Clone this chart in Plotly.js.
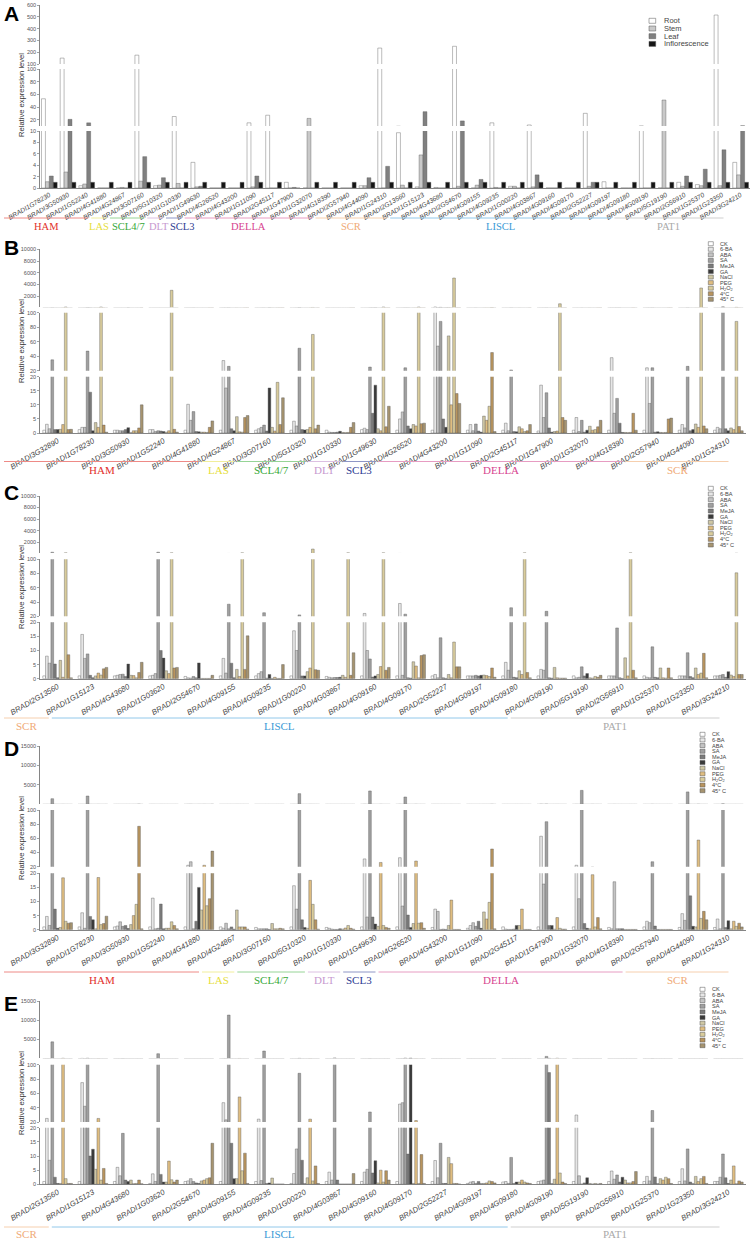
<!DOCTYPE html>
<html><head><meta charset="utf-8">
<script src="https://cdn.plot.ly/plotly-3.0.1.min.js"></script>
<style>html,body{margin:0;padding:0;background:#fff}</style>
</head><body><div id="chart" style="width:753px;height:1240px"></div>
<script>
// ---------- DATA ----------
const genesA = ['BRADI1G78230','BRADI3G50930','BRADI1G52240','BRADI4G41880','BRADI4G24867','BRADI3G07160','BRADI5G10320','BRADI1G10330','BRADI1G49630','BRADI4G26520','BRADI4G43200','BRADI1G11090','BRADI2G45117','BRADI1G47900','BRADI1G32070','BRADI4G18390','BRADI2G57940','BRADI4G44090','BRADI1G24310','BRADI2G13560','BRADI1G15123','BRADI4G43680','BRADI2G54670','BRADI4G09155','BRADI4G09235','BRADI1G00220','BRADI4G03867','BRADI4G09160','BRADI4G09170','BRADI2G52227','BRADI4G09197','BRADI4G09180','BRADI4G09190','BRADI5G19190','BRADI2G56910','BRADI1G25370','BRADI1G23350','BRADI3G24210'];
const tissues = ['Root','Stem','Leaf','Inflorescence'];
const rootA = [53,150,0.4,0,0,175,0.4,25,4.5,0,0,15,27,1,0,0,0,0.4,235,9.7,0.2,0.1,250,0,15,0.3,11.6,0,0,30,1.1,0,10.2,0,1,0.6,515,4.5];
const stemA = [1.1,2.8,0.7,0,0.1,1.2,0.5,0.8,0.2,0,0,0.2,0,0,22,0,0,0.4,0,0.5,5.8,0,0.3,0.5,0.1,0.3,0.2,0,0,0.3,0,0,0,51,0.3,0.4,0.4,2.3];
const leafA = [2.1,20.5,15,0,0,5.5,1.8,0,0.3,0,0,2.1,0,0.1,0,0,0,1.8,3.8,0,32.6,0,18,1.5,0,0,2.3,0,0,1.0,0,0,0,0,2.1,3.3,6.7,10.5];
const inflA = [1,1,1,1,1,1,1,1,1,1,1,1,1,0,1,1,1,1,1,1,1,1,1,1,1,1,1,1,1,1,1,1,1,1,1,1,1,1];

const treatments = ['CK','6-BA','ABA','SA','MeJA','GA','NaCl','PEG','H<sub>2</sub>O<sub>2</sub>','4°C','45° C'];

const genesBD = ['BRADI3G32890','BRADI1G78230','BRADI3G50930','BRADI1G52240','BRADI4G41880','BRADI4G24867','BRADI3G07160','BRADI5G10320','BRADI1G10330','BRADI1G49630','BRADI4G26520','BRADI4G43200','BRADI1G11090','BRADI2G45117','BRADI1G47900','BRADI1G32070','BRADI4G18390','BRADI2G57940','BRADI4G44090','BRADI1G24310'];
const genesCE = ['BRADI2G13560','BRADI1G15123','BRADI4G43680','BRADI1G03620','BRADI2G54670','BRADI4G09155','BRADI4G09235','BRADI1G00220','BRADI4G03867','BRADI4G09160','BRADI4G09170','BRADI2G52227','BRADI4G09197','BRADI4G09180','BRADI4G09190','BRADI5G19190','BRADI2G56910','BRADI1G25370','BRADI1G23350','BRADI3G24210'];

// Panel B
const B_CK   = [1,1.2,1,1.2,1,1,1,1,1,1.2,1,1,1,1,0.7,1,1,1,1,1];
const B_6BA  = [3.1,2,1,1.2,10.2,34,1.5,4.2,0.3,1.7,5,150,3,3.5,17,5.5,38,24,3,2];
const B_ABA  = [1.5,2,0.8,0.5,4.5,16,2,2.5,0.2,1.2,7.5,54,0.8,0.8,5.5,0.5,7,10.5,1.8,1.5];
const B_SA   = [35,47,0.8,0.8,7.6,26,2.8,51,0.2,25,24,88,3.2,21,14.3,4.5,12.3,24,26,180];
const B_MeJA = [1.2,14.5,1.2,0.7,0.5,1.5,0.7,1.2,0.3,7,2.5,5,0.7,0.5,1.8,0.3,3.5,0.3,0.8,1.5];
const B_GA   = [1.2,0.8,1.9,0.5,0.4,0.8,16,1.1,0.6,17,1.5,2,0.3,0.4,0.3,1,0.2,0.4,1.2,0.8];
const B_NaCl = [1.3,3.7,0.1,0.3,0.3,5.8,2,1.2,0.2,1.5,3,68,6,2.2,0.5,2.4,0.2,0.2,3.2,1.8];
const B_PEG  = [3,2,0.8,0.8,0.3,0.4,0.7,2,0.1,0.8,2.5,10,4.5,1.5,0.7,1,0.1,0.1,2,1.2];
const B_H2O2 = [150,150,0.8,3000,0.2,0.3,18,70,0.2,150,150,5100,9.5,0.5,700,1.2,0.2,0.2,3400,88];
const B_4C   = [1.2,2.8,1.8,1.3,2,5.5,3,1.5,2,2.2,3.3,14,45,0.8,5.5,2.2,7,5,2.5,2.3];
const B_45C  = [1.3,0.3,10,0.3,4.3,6.2,12.5,2.8,3.7,9.5,3.5,10.5,0.5,3,4.5,4.5,1,5.3,1.5,0.8];

// Panel C
const C_CK   = [1,1,1,1,0.8,1,1,1,0.8,1,1,1,1,1,1,1,1,1,1,1];
const C_6BA  = [8,15.7,1.2,1.2,0.3,7.2,1.8,17,0.5,24,38,1.5,1,5.8,3.3,0.3,1,0.5,1,1];
const C_ABA  = [5.5,7.2,1.5,1.8,0.2,2,2.5,10,0.3,10,1.2,0.3,1,3,3,0.5,1,0.3,1,1.2];
const C_SA   = [250,8.8,1.6,250,0.8,37,25,22,0.4,7,23,14.5,1.2,32,27,4.2,18,11.3,9.2,1.5];
const C_MeJA = [5.2,1.2,0.8,10,0.3,5.5,0.2,1,0.4,0.6,0.3,0.3,1,0.5,0.3,1,0.3,0.5,0.8,0.5];
const C_GA   = [0.3,0.3,5.2,7.3,5.6,0.3,1.5,1,0.5,1,0.2,0.1,1.2,0.3,0.2,1.8,0.1,0.3,0.3,2.5];
const C_NaCl = [6.5,1,1.2,2.8,0.1,3.3,0.1,2.5,1.2,1.5,6,1.5,1.3,2.8,4,0.3,7.4,3.8,3.8,1.3];
const C_PEG  = [0.5,2,1.1,1.8,0.1,0.8,0.5,3.8,0.5,4.3,4.5,0.3,1.1,1.5,0.3,0.2,1,0.3,1.5,0.8];
const C_H2O2 = [150,1.3,0.3,150,0.1,150,0.1,800,150,150,0.3,13,0.8,150,0.2,0.8,150,0.2,2,81];
const C_4C   = [8.5,3.5,2.2,3.8,0.1,3.3,0.1,3.2,1.2,3,8.2,4.2,3.8,2.2,0.2,0.5,3,3.8,9,1.5];
const C_45C  = [0.3,4,5.8,4,1.2,15.2,5,3,9.2,4,8.5,4.2,0.5,0.3,0.2,1.2,0.3,0.3,0.3,1.5];

// Panel D
const D_CK   = [1,1,1,1,1,1,0.8,1,0.8,1,1,0.8,0.5,1,1,1,0.8,1,0.8,0.8];
const D_6BA  = [4.7,6,1.3,11.2,22,0.5,0.3,15.6,0.5,31,32.7,7.3,1.5,0.2,63,22,0.3,3,5.7,3.8];
const D_ABA  = [1.5,0.5,2.8,0.3,27,2.3,0.3,7.3,0.2,4.5,8.4,6.5,2.5,0.1,16.2,11,17,2.5,3.3,0.3];
const D_SA   = [1460,2150,1.2,0.5,0.3,0.3,0.3,2760,0.1,3450,1900,0.1,1.2,0.1,83.5,3600,0.3,27,3200,150];
const D_MeJA = [7.3,4.7,1.5,9.1,3,1,0.3,3.5,0.1,4.5,5.2,0.2,3,0.2,1.5,2.2,0.3,1.3,12,0.8];
const D_GA   = [0.5,3.5,0.4,0.3,15,0.2,0.1,0.8,0.3,2,0.8,0.1,0.5,1.5,1.5,0.5,0.3,0.1,1.2,3.2];
const D_NaCl = [0.8,0.3,1.8,0.5,7,7,2.2,0.5,0.2,1.2,2.2,1.5,6.3,1.5,0.2,0.3,0.1,0.1,1,0.3];
const D_PEG  = [18.4,18.5,5,0.5,22,1,0.3,17.5,0.6,26,28,10.5,3.8,7.3,4.3,19.5,0.1,0.1,57.6,3];
const D_H2O2 = [3,1.8,9,2.8,8.5,1,0.3,9,1.5,1.5,2.3,0.1,9.7,0.1,0.5,1,0.1,0.1,4,1.2];
const D_4C   = [2.3,2.2,77,1.5,11,1,0.5,3.5,0.5,0.8,2.5,0.1,45,0.1,0.2,4.3,0.1,0.1,6.5,2.3];
const D_45C  = [2.5,4.8,0.3,0.3,42,0.2,0.3,0.2,0.2,0.5,0.5,0.1,0.3,0.1,0.2,0.3,0.1,0.1,3.5,1];

// Panel E
const E_CK   = [1,1,1,0.3,1,1,1,0.3,1,1,1,1,0.3,0.8,1,1,1,1,1,1];
const E_6BA  = [25,75,6,3.7,1.2,47,24,3.8,4.3,4.3,45,8.4,0.8,1,1.2,29.8,4.7,2.8,5.5,1];
const E_ABA  = [8.5,42,3,1,2,23,1.3,12.5,1.5,5.3,47,2.3,1,0.3,1.5,3,1.8,1.2,1.2,2.5];
const E_SA   = [4400,120,18,1300,1,11400,2000,88,200,34,150,14.5,0.3,9.5,600,0.1,3.3,36,12.5,10.7];
const E_MeJA = [2.5,10,1.5,3.5,0.5,14.5,0.3,8.5,1.5,4,10.7,0.3,1,0.3,89,0.5,0.8,2.6,0.8,2.3];
const E_GA   = [0.3,12.4,1,0.8,0.3,2,0.5,0.2,0.1,8.3,150,0.3,0.2,0.8,0.2,2.3,2.5,0.2,0.2,0.3];
const E_NaCl = [0.3,5.3,1.5,0.8,1.2,2,2.2,2.3,0.1,0.5,0.3,9.5,0.3,0.8,1.8,0.3,1.5,2,2.8,1.5];
const E_PEG  = [110,25,0.2,8.2,1.5,55,0.1,24,0.1,5,22,7.3,0.5,1.5,120,0.1,0.5,1.5,1,6.5];
const E_H2O2 = [2,1.5,0.3,1.6,2,4.8,0.1,1.2,0.1,0.8,0.3,0.3,1.2,0.8,4,0.3,0.5,2.5,2,0.2];
const E_4C   = [0.3,5.6,1.5,0.8,2.3,11,0.1,6.5,0.1,4.8,10.5,0.3,1,0.5,0.8,0.1,1,2,2.8,1.2];
const E_45C  = [0.3,0.3,0.2,1.5,14.5,0.3,0.1,0.3,3.8,1.5,0.3,0.1,0.5,0.3,0.3,0.3,4.5,0.3,0.3,0.8];

// gene-family groups (name, number of genes)
const groupsA  = [['HAM',4],['LAS',1],['SCL4/7',2],['DLT',1],['SCL3',1],['DELLA',7],['SCR',4],['LISCL',12],['PAT1',6]];
const groupsBD = [['HAM',5],['LAS',1],['SCL4/7',2],['DLT',1],['SCL3',1],['DELLA',7],['SCR',3]];
const groupsCE = [['SCR',1],['LISCL',13],['PAT1',6]];

// ---------- STYLE ----------
const familyColors = {HAM:'#e2302a',LAS:'#e6de3c','SCL4/7':'#36a836',DLT:'#c799d0',SCL3:'#2e3b92',DELLA:'#d7448f',SCR:'#f0aa76',LISCL:'#3a9ad6',PAT1:'#a9a9a9'};
const familyLine   = {HAM:'#ee8a86',LAS:'#f1ee9c','SCL4/7':'#96d496',DLT:'#dcc0e2',SCL3:'#8e96c6',DELLA:'#e79cc2',SCR:'#f6cfae',LISCL:'#92c8ea',PAT1:'#cfcfcf'};
const tissueColors = ['#ffffff','#c9c9c9','#808080','#151515'];
const treatColors  = ['#ffffff','#e6e6e6','#c4c4c4','#a0a0a0','#7a7a7a','#3a3a3a','#cfc7a4','#dfbd80','#d9cc9c','#b8945e','#a69470'];

const W = 753, H = 1240;
const px = v => v / W, py = v => 1 - v / H;

const panels = [
 {letter:'A', letterY:13, genes:genesA, series:[rootA,stemA,leafA,inflA], names:tissues, colors:tissueColors, groups:groupsA,
  xdom:[40,750], tickangle:-30, tickfs:6.6, shift:25, lineY:218, textY:226, titleY:95, gfs:10.5,
  segs:[{range:[0,10],px:[188,131],ticks:[0,2,4,6,8,10]},{range:[10,100],px:[126,69],ticks:[20,40,60,80,100]},{range:[100,600],px:[64,5],ticks:[100,200,300,400,500,600]}],
  leg:{x:649,y0:20.8,dy:7.7,bw:6.7,bh:5,fs:7.5,tx:661.7}},
 {letter:'B', letterY:248, genes:genesBD, series:[B_CK,B_6BA,B_ABA,B_SA,B_MeJA,B_GA,B_NaCl,B_PEG,B_H2O2,B_4C,B_45C], names:treatments, colors:treatColors, groups:groupsBD,
  xdom:[40,746], tickangle:-30, tickfs:7.6, shift:16, lineY:461.5, textY:470, titleY:341, gfs:11,
  segs:[{range:[0,20],px:[433,376.7],ticks:[0,5,10,15,20]},{range:[20,100],px:[370.7,312.7],ticks:[20,40,60,80,100]},{range:[100,10000],px:[307.3,249.3],ticks:[2000,4000,6000,8000,10000]}],
  leg:{x:708.3,y0:243.7,dy:5.56,bw:5,bh:4,fs:5.6,tx:717.5}},
 {letter:'C', letterY:492.5, genes:genesCE, series:[C_CK,C_6BA,C_ABA,C_SA,C_MeJA,C_GA,C_NaCl,C_PEG,C_H2O2,C_4C,C_45C], names:treatments, colors:treatColors, groups:groupsCE,
  xdom:[40,746], tickangle:-30, tickfs:7.6, shift:25, lineY:718, textY:726, titleY:587, gfs:11,
  segs:[{range:[0,20],px:[678.7,622.3],ticks:[0,5,10,15,20]},{range:[20,100],px:[616.3,559.3],ticks:[20,40,60,80,100]},{range:[100,10000],px:[553.1,496],ticks:[2000,4000,6000,8000,10000]}],
  leg:{x:708.3,y0:488.3,dy:5.67,bw:5,bh:4,fs:5.6,tx:717.5}},
 {letter:'D', letterY:748.5, genes:genesBD, series:[D_CK,D_6BA,D_ABA,D_SA,D_MeJA,D_GA,D_NaCl,D_PEG,D_H2O2,D_4C,D_45C], names:treatments, colors:treatColors, groups:groupsBD,
  xdom:[40,746], tickangle:-30, tickfs:7.6, shift:16, lineY:972, textY:980, titleY:838, gfs:11,
  segs:[{range:[0,20],px:[929.7,873.3],ticks:[0,5,10,15,20]},{range:[20,100],px:[866.7,810],ticks:[20,40,60,80,100]},{range:[100,15000],px:[804,746],ticks:[5000,10000,15000]}],
  leg:{x:700,y0:734.3,dy:5.64,bw:5,bh:4,fs:5.6,tx:709.5}},
 {letter:'E', letterY:1003.5, genes:genesCE, series:[E_CK,E_6BA,E_ABA,E_SA,E_MeJA,E_GA,E_NaCl,E_PEG,E_H2O2,E_4C,E_45C], names:treatments, colors:treatColors, groups:groupsCE,
  xdom:[40,746], tickangle:-30, tickfs:7.6, shift:25, lineY:1227, textY:1233.5, titleY:1093, gfs:11,
  segs:[{range:[0,20],px:[1184.3,1127.7],ticks:[0,5,10,15,20]},{range:[20,100],px:[1122,1064.7],ticks:[20,40,60,80,100]},{range:[100,15000],px:[1058.3,1001.3],ticks:[5000,10000,15000]}],
  leg:{x:700,y0:989.3,dy:5.64,bw:5,bh:4,fs:5.6,tx:709.5}}
];

const layout = {
  width:W, height:H, margin:{l:0,r:0,t:0,b:0},
  paper_bgcolor:'#ffffff', plot_bgcolor:'rgba(0,0,0,0)',
  showlegend:false, barmode:'group', bargap:0.16, bargroupgap:0,
  font:{family:'Liberation Sans, Arial, sans-serif', color:'#444'},
  shapes:[], annotations:[]
};
const data = [];
let yi = 0;

panels.forEach((p, pi) => {
  const xname = pi === 0 ? 'x' : 'x' + (pi + 1);
  const xkey  = pi === 0 ? 'xaxis' : 'xaxis' + (pi + 1);
  const firstY = yi + 1;
  p.segs.forEach(s => {
    yi++;
    const yname = yi === 1 ? 'y' : 'y' + yi;
    const ykey  = yi === 1 ? 'yaxis' : 'yaxis' + yi;
    layout[ykey] = {
      domain:[py(s.px[0]), py(s.px[1])], range:s.range, anchor:xname,
      tickmode:'array', tickvals:s.ticks, tickformat:'d', ticks:'outside', ticklen:2, tickwidth:0.6, tickcolor:'#666',
      showline:true, linecolor:'#666', linewidth:0.8, showgrid:false, zeroline:false,
      tickfont:{size:5.5, color:'#555'}, fixedrange:true
    };
    p.series.forEach((vals, k) => {
      data.push({type:'bar', x:p.genes, y:vals, xaxis:xname, yaxis:yname, name:p.names[k],
        marker:{color:p.colors[k], line:{color:'#555', width:0.4}}, showlegend:false, hoverinfo:'skip'});
    });
  });
  layout[xkey] = {
    domain:[px(p.xdom[0]), px(p.xdom[1])], anchor: firstY === 1 ? 'y' : 'y' + firstY,
    type:'category', range:[-0.5, p.genes.length - 0.5],
    showline:true, linecolor:'#666', linewidth:0.8, ticks:'', tickangle:p.tickangle,
    tickfont:{size:p.tickfs, color:'#444', style:'italic'}, showgrid:false, zeroline:false, fixedrange:true
  };

  // panel letter
  layout.annotations.push({xref:'paper', yref:'paper', x:px(2), y:py(p.letterY), xanchor:'left', yanchor:'middle',
    text:'<b>' + p.letter + '</b>', showarrow:false, font:{size:21, color:'#000', family:'Liberation Sans, Arial, sans-serif'}});
  // y title
  layout.annotations.push({xref:'paper', yref:'paper', x:px(21), y:py(p.titleY), xanchor:'center', yanchor:'middle',
    text:'Relative expression level', textangle:-90, showarrow:false, font:{size:7.6, color:'#333'}});

  // gene family groups: line under the rotated labels, name centred below (nudged so names never collide)
  const cw = (p.xdom[1] - p.xdom[0]) / p.genes.length;
  let start = 0, prevRight = -1e9;
  p.groups.forEach(([name, count], gi) => {
    let x0 = p.xdom[0] + start * cw - p.shift + 1.5;
    const x1 = p.xdom[0] + (start + count) * cw - p.shift - 1.5;
    if (gi === 0) x0 = 4;
    layout.shapes.push({type:'line', xref:'paper', yref:'paper', x0:px(x0), x1:px(x1), y0:py(p.lineY), y1:py(p.lineY),
      line:{color:familyLine[name], width:1}});
    const tw = p.gfs * 0.6 * name.length;
    const cx = Math.max((x0 + x1) / 2, prevRight + tw / 2 + 1.5);
    prevRight = cx + tw / 2;
    layout.annotations.push({xref:'paper', yref:'paper', x:px(cx), y:py(p.textY), xanchor:'center', yanchor:'middle',
      text:name, showarrow:false, font:{family:'Liberation Serif, Times New Roman, serif', size:p.gfs, color:familyColors[name]}});
    start += count;
  });

  // legend
  const L = p.leg;
  p.names.forEach((n, k) => {
    const yc = L.y0 + k * L.dy;
    layout.shapes.push({type:'rect', xref:'paper', yref:'paper', x0:px(L.x), x1:px(L.x + L.bw),
      y0:py(yc + L.bh / 2), y1:py(yc - L.bh / 2), fillcolor:p.colors[k], line:{color:'#555', width:0.5}});
    layout.annotations.push({xref:'paper', yref:'paper', x:px(L.tx), y:py(yc), xanchor:'left', yanchor:'middle',
      text:n, showarrow:false, font:{size:L.fs, color:'#444'}});
  });
});

Plotly.newPlot('chart', data, layout, {staticPlot:true, displayModeBar:false});
</script>
</body></html>
